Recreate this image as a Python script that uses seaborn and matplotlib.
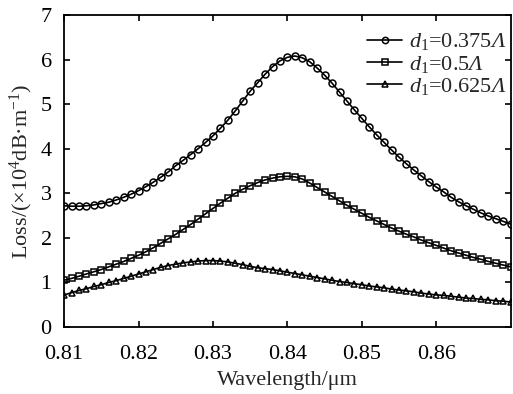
import numpy as np
import pandas as pd
import seaborn as sns
import matplotlib.pyplot as plt

# wavelength grid (um), 0.001 step
wavelength = np.round(np.arange(0.810, 0.8705, 0.001), 3)

loss_0375 = [2.72, 2.71, 2.71, 2.72, 2.74, 2.77, 2.80, 2.85, 2.91, 2.98,
             3.06, 3.15, 3.25, 3.36, 3.48, 3.62, 3.74, 3.87, 4.00, 4.14,
             4.29, 4.46, 4.64, 4.85, 5.07, 5.29, 5.48, 5.67, 5.84, 5.97,
             6.05, 6.08, 6.04, 5.95, 5.81, 5.65, 5.47, 5.27, 5.07, 4.87,
             4.68, 4.49, 4.31, 4.14, 3.97, 3.81, 3.66, 3.52, 3.39, 3.26,
             3.14, 3.03, 2.91, 2.81, 2.72, 2.64, 2.56, 2.49, 2.43, 2.37,
             2.31]
loss_05 = [1.05, 1.09, 1.14, 1.19, 1.24, 1.29, 1.35, 1.41, 1.47, 1.54,
           1.61, 1.69, 1.78, 1.88, 1.98, 2.08, 2.19, 2.30, 2.42, 2.54,
           2.66, 2.78, 2.89, 3.00, 3.09, 3.17, 3.24, 3.30, 3.34, 3.37,
           3.38, 3.37, 3.32, 3.23, 3.13, 3.03, 2.93, 2.83, 2.73, 2.64,
           2.55, 2.46, 2.38, 2.30, 2.22, 2.15, 2.08, 2.02, 1.95, 1.89,
           1.83, 1.77, 1.71, 1.66, 1.61, 1.56, 1.52, 1.47, 1.43, 1.39,
           1.35]
loss_0625 = [0.72, 0.77, 0.82, 0.86, 0.91, 0.95, 1.00, 1.04, 1.09, 1.14,
             1.19, 1.24, 1.29, 1.34, 1.38, 1.41, 1.44, 1.46, 1.48, 1.49,
             1.49, 1.48, 1.46, 1.43, 1.40, 1.36, 1.33, 1.31, 1.29, 1.26,
             1.23, 1.20, 1.17, 1.14, 1.11, 1.08, 1.05, 1.02, 1.00, 0.97,
             0.95, 0.92, 0.90, 0.88, 0.85, 0.83, 0.81, 0.79, 0.76, 0.74,
             0.72, 0.71, 0.69, 0.67, 0.65, 0.64, 0.62, 0.61, 0.59, 0.58,
             0.56]

# mathtext forces Greek capitals to the "rm" font, so rm is the italic face
# here and upright digits go through \mathsf
labels = [r'$d_{\mathsf{1}}$=0.375$Λ$', r'$d_{\mathsf{1}}$=0.5$Λ$',
          r'$d_{\mathsf{1}}$=0.625$Λ$']
markers = ['o', 's', '^']

sns.set_theme(style='ticks')
plt.rcParams['font.family'] = ['Liberation Serif', 'DejaVu Serif']
plt.rcParams['mathtext.fontset'] = 'custom'
plt.rcParams['mathtext.rm'] = 'Liberation Serif:italic'
plt.rcParams['mathtext.it'] = 'Liberation Serif:italic'
plt.rcParams['mathtext.sf'] = 'Liberation Serif'
plt.rcParams['mathtext.bf'] = 'Liberation Serif:bold'

fig = plt.figure(figsize=(5.13, 3.94), dpi=100)
ax = fig.add_axes([0.125, 0.170, 0.8705, 0.792])

for vals, lab, mk in zip([loss_0375, loss_05, loss_0625], labels, markers):
    df = pd.DataFrame({'wl': wavelength, 'loss': vals})
    sns.lineplot(data=df, x='wl', y='loss', ax=ax, color='black', lw=1.2,
                 marker=mk, markersize=5, markerfacecolor='none',
                 markeredgecolor='black', markeredgewidth=1.1, label=lab)

ax.set_xlim(0.81, 0.87)
ax.set_ylim(0, 7)
ax.set_xticks([0.81, 0.82, 0.83, 0.84, 0.85, 0.86])
ax.set_xticklabels(['0.81', '0.82', '0.83', '0.84', '0.85', '0.86'])
ax.set_yticks(range(0, 8))
ax.tick_params(direction='in', top=True, right=True, labelsize=16,
               length=4, width=1.2, colors='black')
ax.tick_params(axis='x', pad=13)
ax.tick_params(axis='y', pad=9)
for s in ax.spines.values():
    s.set_linewidth(1.3)
    s.set_color('black')

ax.set_xlabel('Wavelength/μm', fontsize=16, labelpad=5)
ax.set_ylabel(r'Loss/(×10$^{\mathsf{4}}$dB·m$^{\mathsf{-1}}$)', fontsize=16,
              labelpad=4)

ax.legend(loc='upper right', bbox_to_anchor=(1.02, 0.99), frameon=False,
          fontsize=16, handlelength=1.6, handletextpad=0.3, labelspacing=0.05,
          borderaxespad=0.2, markerscale=0.9)

fig.savefig('out.png', dpi=100)
